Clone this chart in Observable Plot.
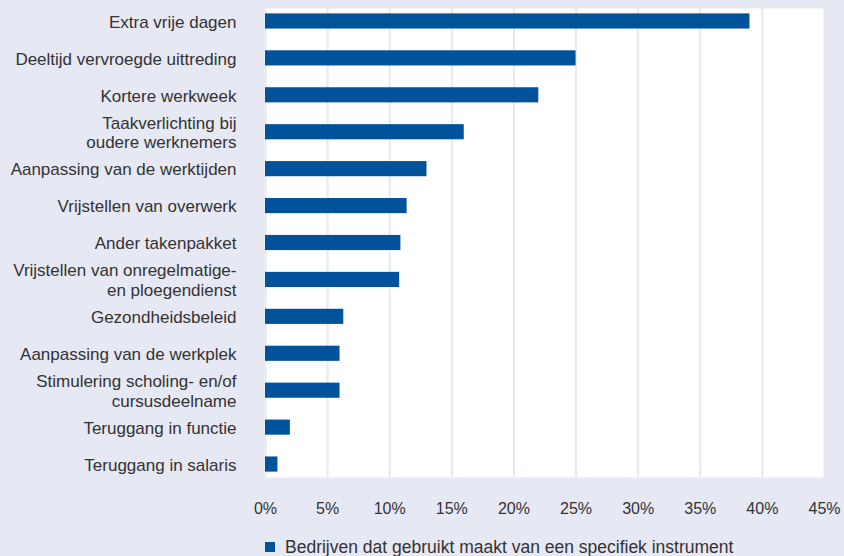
<!DOCTYPE html>
<html>
<head>
<meta charset="utf-8">
<script src="https://cdn.jsdelivr.net/npm/d3@7"></script>
<script src="https://cdn.jsdelivr.net/npm/@observablehq/plot@0.6"></script>
<style>
  html, body { margin: 0; padding: 0; background: #e6e8f3; }
  #wrap { width: 844px; height: 556px; background: #e6e8f3; font-family: "Liberation Sans", Arial, sans-serif; color: #333; }
  #legend { position: relative; height: 28px; font-size: 17.5px; line-height: 20px; }
  #legend .sw { position: absolute; left: 265px; top: 14px; width: 10px; height: 10px; background: #00529b; }
  #legend .tx { position: absolute; left: 285px; top: 9px; white-space: nowrap; }
  svg { display: block; }
</style>
</head>
<body>
<div id="wrap">
  <div id="chart"></div>
  <div id="legend"><span class="sw"></span><span class="tx"></span></div>
</div>
<script>
const categories = [
  "Extra vrije dagen",
  "Deeltijd vervroegde uittreding",
  "Kortere werkweek",
  "Taakverlichting bij\noudere werknemers",
  "Aanpassing van de werktijden",
  "Vrijstellen van overwerk",
  "Ander takenpakket",
  "Vrijstellen van onregelmatige-\nen ploegendienst",
  "Gezondheidsbeleid",
  "Aanpassing van de werkplek",
  "Stimulering scholing- en/of\ncursusdeelname",
  "Teruggang in functie",
  "Teruggang in salaris"
];
const values = [39.0, 25.0, 22.0, 16.0, 13.0, 11.4, 10.9, 10.8, 6.3, 6.0, 6.0, 2.0, 1.0];
const xTicks = [0, 5, 10, 15, 20, 25, 30, 35, 40, 45];
const seriesName = "Bedrijven dat gebruikt maakt van een specifiek instrument";

const data = categories.map((c, i) => ({category: c, value: values[i]}));

const chart = Plot.plot({
  width: 844,
  height: 528,
  marginLeft: 265,
  marginRight: 20,
  marginTop: 2.5,
  marginBottom: 45.5,
  style: {background: "transparent", fontFamily: "Liberation Sans, Arial, sans-serif", fontSize: "16px", color: "#333"},
  x: {domain: [0, 45], ticks: xTicks, tickFormat: d => d + "%", label: null},
  y: {domain: categories, paddingInner: 0.59, paddingOuter: 0.295, round: false, label: null},
  marks: [
    Plot.frame({fill: "white", stroke: null, insetTop: 5.5, insetBottom: 5.5, insetLeft: -1}),
    Plot.ruleX(xTicks, {stroke: "#e6e8f3", strokeWidth: 2, insetTop: 5.5, insetBottom: 5.5}),
    Plot.barX(data, {x: "value", y: "category", fill: "#00529b"}),
    Plot.axisX({ticks: xTicks, tickFormat: d => d + "%", tickSize: 0, tickPadding: 20, fontSize: 16, fill: "#333", label: null}),
    Plot.axisY({tickSize: 0, tickPadding: 29, fontSize: 17, fill: "#333", lineHeight: 1.15, label: null, textOverflow: null})
  ]
});
document.getElementById("chart").appendChild(chart);
document.querySelector("#legend .tx").textContent = seriesName;
</script>
</body>
</html>
